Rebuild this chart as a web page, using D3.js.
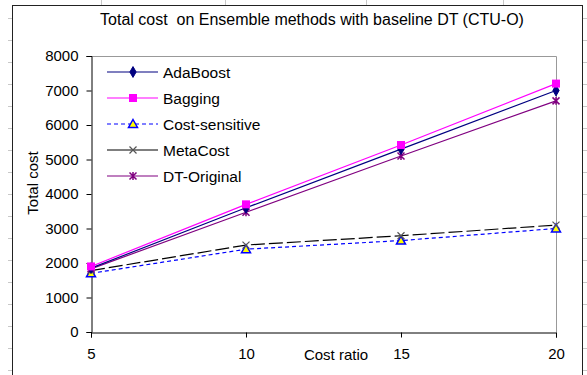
<!DOCTYPE html>
<html>
<head>
<meta charset="utf-8">
<script src="https://cdn.jsdelivr.net/npm/d3@7"></script>
<style>
  body { margin: 0; background: #fff; }
  svg { display: block; font-family: "Liberation Sans", Arial, sans-serif; }
</style>
</head>
<body>
<div id="chart"></div>
<script>
// Données
const costRatios = [5, 10, 15, 20];
const adaBoost = [1850, 3600, 5300, 7000];
const bagging = [1900, 3700, 5420, 7200];
const costSensitive = [1700, 2400, 2650, 3000];
const metaCost = [1780, 2520, 2790, 3100];
const dtOriginal = [1830, 3470, 5100, 6700];
const yTicks = [0, 1000, 2000, 3000, 4000, 5000, 6000, 7000, 8000];

const series = [
  { name: "AdaBoost", values: adaBoost, color: "#000080", dash: null, marker: "diamond" },
  { name: "Bagging", values: bagging, color: "#ff00ff", dash: null, marker: "square" },
  { name: "Cost-sensitive", values: costSensitive, color: "#0000ff", dash: "4,3", marker: "triangle" },
  { name: "MetaCost", values: metaCost, color: "#000000", dash: "14,4", marker: "x" },
  { name: "DT-Original", values: dtOriginal, color: "#800080", dash: null, marker: "star" }
];

const W = 587, H = 375;
const svg = d3.select("#chart").append("svg")
  .attr("width", W).attr("height", H);

// Lignes du tableur autour du cadre
const sheet = svg.append("g").attr("stroke", "#c8c8c8").attr("stroke-width", 1);
for (let y = 18; y < H; y += 22) {
  sheet.append("line").attr("x1", 8).attr("x2", 12).attr("y1", y + 0.5).attr("y2", y + 0.5);
  sheet.append("line").attr("x1", 583).attr("x2", 587).attr("y1", y + 0.5).attr("y2", y + 0.5);
}
[101, 225, 366, 503].forEach(x => {
  sheet.append("line").attr("x1", x + 0.5).attr("x2", x + 0.5).attr("y1", 0).attr("y2", 5);
});

// Cadre du graphique
svg.append("rect")
  .attr("x", 12.5).attr("y", 5.5).attr("width", 570).attr("height", 380)
  .attr("fill", "#fff").attr("stroke", "#222").attr("stroke-width", 1);

// Titre
svg.append("text")
  .attr("x", 312).attr("y", 25)
  .attr("text-anchor", "middle")
  .style("font-size", "16px")
  .attr("fill", "#000")
  .attr("xml:space", "preserve")
  .text("Total cost  on Ensemble methods with baseline DT (CTU-O)");

const margin = { left: 91, right: 556, top: 56, bottom: 332 };

const x = d3.scaleLinear().domain([5, 20]).range([margin.left, margin.right]);
const y = d3.scaleLinear().domain([0, 8000]).range([margin.bottom, margin.top]);

// Bordure de la zone de tracé
svg.append("path")
  .attr("d", `M${margin.left},${margin.top + 0.5}H${margin.right + 0.5}V${margin.bottom}`)
  .attr("fill", "none").attr("stroke", "#999").attr("stroke-width", 1);

// Axe Y
const yAxis = svg.append("g")
  .attr("transform", `translate(${margin.left + 0.5},0)`)
  .call(d3.axisLeft(y).tickValues(yTicks).tickSize(5).tickPadding(8).tickFormat(d3.format("d")));
yAxis.select(".domain").attr("stroke", "#000");
yAxis.selectAll(".tick line").attr("stroke", "#000");
yAxis.selectAll("text").style("font-size", "15px").attr("fill", "#000").attr("font-family", null);

// Axe X
const xAxis = svg.append("g")
  .attr("transform", `translate(0,${margin.bottom + 0.5})`)
  .call(d3.axisBottom(x).tickValues(costRatios).tickSize(5).tickPadding(11).tickFormat(d3.format("d")));
xAxis.select(".domain").attr("stroke", "#000");
xAxis.selectAll(".tick line").attr("stroke", "#000");
xAxis.selectAll("text").style("font-size", "15px").attr("fill", "#000").attr("font-family", null);

// Libellés des axes
svg.append("text")
  .attr("x", 336).attr("y", 360)
  .attr("text-anchor", "middle")
  .style("font-size", "15px")
  .text("Cost ratio");

svg.append("text")
  .attr("transform", "translate(38,183) rotate(-90)")
  .attr("text-anchor", "middle")
  .style("font-size", "15px")
  .text("Total cost");

// Marqueurs
function drawMarker(g, type, color, cx, cy) {
  if (type === "diamond") {
    g.append("path").attr("d", d3.symbol(d3.symbolDiamond, 34)())
      .attr("transform", `translate(${cx},${cy})`).attr("fill", color).attr("stroke", color);
  } else if (type === "square") {
    g.append("rect").attr("x", cx - 4).attr("y", cy - 4).attr("width", 8).attr("height", 8)
      .attr("fill", color);
  } else if (type === "triangle") {
    g.append("path").attr("d", `M${cx},${cy - 4.5}L${cx + 4.5},${cy + 3.5}L${cx - 4.5},${cy + 3.5}Z`)
      .attr("fill", "#ffff00").attr("stroke", "#0000ff").attr("stroke-width", 1.5);
  } else if (type === "x") {
    g.append("path").attr("d", `M${cx - 3.5},${cy - 3.5}L${cx + 3.5},${cy + 3.5}M${cx + 3.5},${cy - 3.5}L${cx - 3.5},${cy + 3.5}`)
      .attr("stroke", "#555").attr("stroke-width", 1.2);
  } else if (type === "star") {
    g.append("path").attr("d", `M${cx - 3.5},${cy - 3.5}L${cx + 3.5},${cy + 3.5}M${cx + 3.5},${cy - 3.5}L${cx - 3.5},${cy + 3.5}M${cx},${cy - 4}V${cy + 4}`)
      .attr("stroke", color).attr("stroke-width", 1.5);
  }
}

const line = d3.line()
  .x((d, i) => x(costRatios[i]))
  .y(d => y(d));

// Ordre de dessin : les lignes basses d'abord
const drawOrder = ["Cost-sensitive", "MetaCost", "DT-Original", "AdaBoost", "Bagging"];
drawOrder.forEach(name => {
  const s = series.find(d => d.name === name);
  svg.append("path")
    .datum(s.values)
    .attr("d", line)
    .attr("fill", "none")
    .attr("stroke", s.color)
    .attr("stroke-width", 1.2)
    .attr("stroke-dasharray", s.dash);
});
drawOrder.forEach(name => {
  const s = series.find(d => d.name === name);
  const g = svg.append("g");
  s.values.forEach((v, i) => drawMarker(g, s.marker, s.color, x(costRatios[i]), y(v)));
});

// Légende
const legend = svg.append("g");
series.forEach((s, i) => {
  const ly = 72 + i * 26;
  const row = legend.append("g");
  row.append("line")
    .attr("x1", 107).attr("x2", 158).attr("y1", ly).attr("y2", ly)
    .attr("stroke", s.color).attr("stroke-width", 1.2)
    .attr("stroke-dasharray", s.dash === "14,4" ? null : s.dash);
  drawMarker(row, s.marker, s.color, 133, ly);
  row.append("text")
    .attr("x", 163).attr("y", ly + 5.5)
    .style("font-size", "15.5px")
    .text(s.name);
});
</script>
</body>
</html>
